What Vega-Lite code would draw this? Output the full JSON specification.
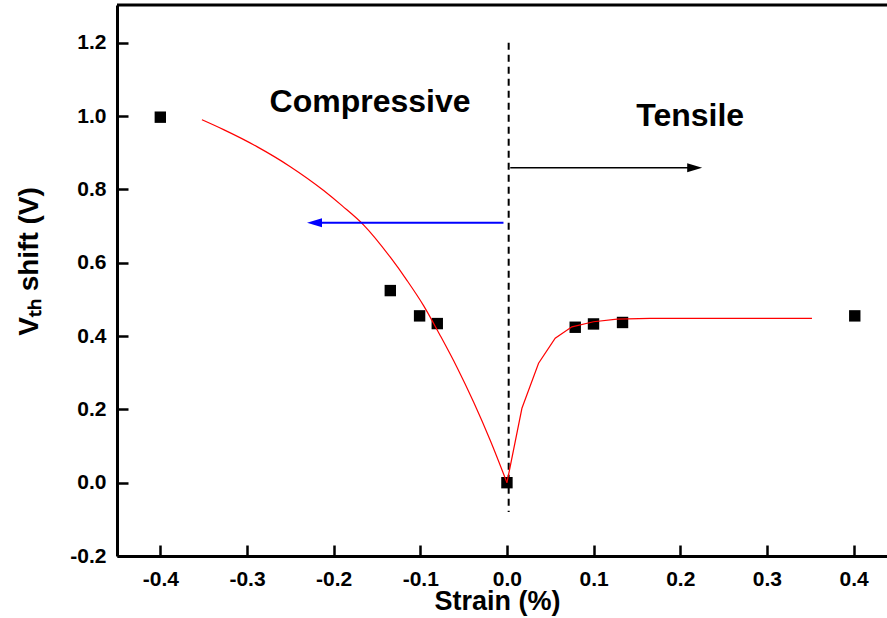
{
  "$schema": "https://vega.github.io/schema/vega-lite/v6.json",
  "width": 770,
  "height": 551,
  "autosize": {"type": "none"},
  "padding": {"left": 117, "top": 5, "right": 0, "bottom": 62},
  "background": "white",
  "config": {
    "view": {"stroke": null},
    "font": "Liberation Sans",
    "locale": {"number": {"decimal": ".", "thousands": ",", "grouping": [3], "currency": ["", ""], "minus": "-"}},
    "axis": {
      "grid": false, "labelFlush": false, "labelOverlap": false,
      "domainWidth": 3, "domainColor": "black",
      "tickSize": -11, "tickWidth": 2.5, "tickColor": "black",
      "labelFont": "Liberation Sans", "labelFontWeight": "bold", "labelFontSize": 21, "labelColor": "black",
      "titleFont": "Liberation Sans", "titleFontWeight": "bold", "titleColor": "black"
    },
    "axisX": {"labelPadding": 23, "titleFontSize": 27},
    "axisY": {"labelPadding": 22, "titleFontSize": 28}
  },
  "datasets": {
    "measured": [
      {"strain": -0.4, "vth": 0.997},
      {"strain": -0.1346, "vth": 0.524},
      {"strain": -0.1008, "vth": 0.455},
      {"strain": -0.0804, "vth": 0.434},
      {"strain": 0.0, "vth": 0.0},
      {"strain": 0.0788, "vth": 0.424},
      {"strain": 0.0999, "vth": 0.433},
      {"strain": 0.1334, "vth": 0.437},
      {"strain": 0.4014, "vth": 0.455}
    ],
    "fitCompressive": [
      {"strain": -0.352, "vth": 0.99},
      {"strain": -0.327, "vth": 0.963},
      {"strain": -0.288, "vth": 0.916},
      {"strain": -0.25, "vth": 0.862},
      {"strain": -0.2115, "vth": 0.797},
      {"strain": -0.19, "vth": 0.755},
      {"strain": -0.165, "vth": 0.702},
      {"strain": -0.1346, "vth": 0.615},
      {"strain": -0.1154, "vth": 0.552},
      {"strain": -0.0962, "vth": 0.483},
      {"strain": -0.0769, "vth": 0.401},
      {"strain": -0.0577, "vth": 0.315},
      {"strain": -0.0385, "vth": 0.22},
      {"strain": -0.0192, "vth": 0.115},
      {"strain": 0.0, "vth": 0.0}
    ],
    "fitTensile": [
      {"strain": 0.0, "vth": 0.0},
      {"strain": 0.0173, "vth": 0.203},
      {"strain": 0.0365, "vth": 0.326},
      {"strain": 0.0557, "vth": 0.394},
      {"strain": 0.075, "vth": 0.425},
      {"strain": 0.1, "vth": 0.439},
      {"strain": 0.127, "vth": 0.446},
      {"strain": 0.165, "vth": 0.448},
      {"strain": 0.352, "vth": 0.448}
    ],
    "labels": [
      {"text": "Compressive", "strain": -0.158, "vth": 1.011},
      {"text": "Tensile", "strain": 0.2115, "vth": 0.973}
    ],
    "one": [{}]
  },
  "layer": [
    {
      "data": {"name": "measured"},
      "mark": {"type": "point", "shape": "square", "size": 130, "filled": true, "color": "black", "opacity": 1},
      "encoding": {
        "x": {
          "field": "strain", "type": "quantitative",
          "scale": {"domain": [-0.45, 0.4386], "nice": false, "zero": false},
          "axis": {
            "values": [-0.4, -0.3, -0.2, -0.1, 0, 0.1, 0.2, 0.3, 0.4],
            "format": ".1f",
            "title": "Strain (%)",
            "titleX": 380, "titleY": 53, "titleBaseline": "alphabetic", "titleAlign": "center",
            "encode": {"labels": {"update": {"fontSize": {"value": 21}, "fontWeight": {"value": "bold"}, "font": {"value": "Liberation Sans"}}}}
          }
        },
        "y": {
          "field": "vth", "type": "quantitative",
          "scale": {"domain": [-0.2, 1.303], "nice": false, "zero": false},
          "axis": {
            "values": [-0.2, 0, 0.2, 0.4, 0.6, 0.8, 1.0, 1.2],
            "format": ".1f",
            "title": "Vₜₕ shift (V)",
            "titleX": -80, "titleY": 256, "titleBaseline": "alphabetic", "titleAlign": "center", "titleAngle": -90,
            "encode": {"labels": {"update": {"fontSize": {"value": 21}, "fontWeight": {"value": "bold"}, "font": {"value": "Liberation Sans"}}}}
          }
        }
      }
    },
    {
      "data": {"name": "one"},
      "mark": {"type": "rule", "strokeWidth": 3, "color": "black"},
      "encoding": {"y": {"datum": 1.303, "type": "quantitative"}}
    },
    {
      "data": {"name": "one"},
      "mark": {"type": "rule", "strokeWidth": 2, "color": "black", "strokeDash": [7, 5]},
      "encoding": {
        "x": {"datum": 0.002, "type": "quantitative"},
        "y": {"datum": 1.2, "type": "quantitative"},
        "y2": {"datum": -0.08}
      }
    },
    {
      "data": {"name": "fitCompressive"},
      "mark": {"type": "line", "color": "#ff0000", "strokeWidth": 1.2, "interpolate": "monotone"},
      "encoding": {
        "x": {"field": "strain", "type": "quantitative"},
        "y": {"field": "vth", "type": "quantitative"},
        "order": {"field": "strain"}
      }
    },
    {
      "data": {"name": "fitTensile"},
      "mark": {"type": "line", "color": "#ff0000", "strokeWidth": 1.2, "interpolate": "linear"},
      "encoding": {
        "x": {"field": "strain", "type": "quantitative"},
        "y": {"field": "vth", "type": "quantitative"},
        "order": {"field": "strain"}
      }
    },
    {
      "data": {"name": "one"},
      "mark": {"type": "rule", "strokeWidth": 2, "color": "#0000ff"},
      "encoding": {
        "x": {"datum": -0.004, "type": "quantitative"},
        "x2": {"datum": -0.222},
        "y": {"datum": 0.709, "type": "quantitative"}
      }
    },
    {
      "data": {"name": "one"},
      "mark": {"type": "point", "shape": "M 0 0 L 2 -0.6 L 2 0.6 Z", "size": 225, "filled": true, "color": "#0000ff", "opacity": 1, "strokeWidth": 0},
      "encoding": {
        "x": {"datum": -0.2307, "type": "quantitative"},
        "y": {"datum": 0.709, "type": "quantitative"}
      }
    },
    {
      "data": {"name": "one"},
      "mark": {"type": "rule", "strokeWidth": 1.5, "color": "black"},
      "encoding": {
        "x": {"datum": 0.0038, "type": "quantitative"},
        "x2": {"datum": 0.217},
        "y": {"datum": 0.859, "type": "quantitative"}
      }
    },
    {
      "data": {"name": "one"},
      "mark": {"type": "point", "shape": "M 0 0 L -2 -0.6 L -2 0.6 Z", "size": 225, "filled": true, "color": "black", "opacity": 1, "strokeWidth": 0},
      "encoding": {
        "x": {"datum": 0.2253, "type": "quantitative"},
        "y": {"datum": 0.859, "type": "quantitative"}
      }
    },
    {
      "data": {"name": "labels"},
      "mark": {"type": "text", "font": "Liberation Sans", "fontWeight": "bold", "fontSize": 32, "color": "black", "align": "center", "baseline": "alphabetic"},
      "encoding": {
        "x": {"field": "strain", "type": "quantitative"},
        "y": {"field": "vth", "type": "quantitative"},
        "text": {"field": "text"}
      }
    }
  ]
}
